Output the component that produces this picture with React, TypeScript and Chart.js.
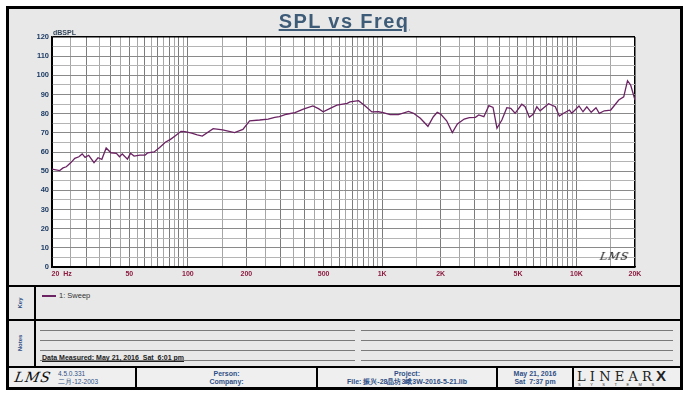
import React, { useEffect, useRef } from 'react';
import { Chart, registerables } from 'chart.js';

Chart.register(...registerables);

// ---- data ----
const freqHz = [
  20, 21.9, 22.8, 23.7, 25.1, 26.2, 27.5, 28.6, 29.6, 30.9, 32.9, 34.5, 36.1, 38.0, 40.2, 42.9,
  44.5, 46.0, 48.9, 50.7, 52.9, 56.7, 60.3, 62.2, 67.1, 71.6, 76.6, 81.4, 86.3, 92.2, 96.6,
  104.6, 111.8, 118.7, 135, 151, 174, 192, 208, 234, 259, 280, 296, 322, 356, 393, 440, 470,
  497, 540, 585, 661, 683, 756, 818, 885, 957, 1012, 1099, 1212, 1367, 1450, 1572, 1720, 1834,
  1920, 1999, 2147, 2296, 2439, 2643, 2809, 3019, 3140, 3337, 3540, 3720, 3897, 4130, 4380,
  4590, 4830, 5230, 5440, 5720, 6000, 6250, 6500, 7180, 7780, 8160, 8580, 9200, 9460, 10300,
  10800, 11300, 11900, 12600, 13100, 13900, 15000, 16500, 17500, 18300, 19000, 20000,
];
const splDb = [
  51.1, 50.3, 51.7, 52.3, 54.6, 56.7, 57.5, 59.0, 57.2, 58.3, 54.4, 57.0, 56.2, 62.1, 59.6, 59.3,
  57.5, 59.0, 56.3, 59.3, 57.9, 58.4, 58.4, 59.6, 60.0, 62.4, 65.1, 66.6, 68.5, 70.8, 70.6,
  69.8, 68.9, 68.3, 72.2, 71.5, 70.1, 71.8, 76.3, 76.7, 77.2, 78.1, 78.4, 79.7, 80.5, 82.4, 84.0, 82.6,
  81.0, 82.8, 84.4, 85.4, 86.1, 86.8, 84.0, 80.9, 81.0, 80.5, 79.5, 79.5, 81.2, 80.2, 77.6, 73.4, 78.4,
  80.7, 79.8, 76.3, 70.1, 74.6, 77.2, 77.9, 78.1, 79.3, 78.4, 84.2, 83.3, 72.4, 76.7, 83.1,
  82.8, 80.2, 84.9, 83.6, 78.1, 79.8, 83.6, 81.5, 85.2, 83.6, 78.8, 80.2, 81.9, 80.2, 84.0,
  81.0, 83.6, 80.7, 83.1, 80.2, 81.5, 81.9, 87.1, 88.8, 97.2, 94.9, 87.1,
];

const xLabelFreqs = [20, 50, 100, 200, 500, 1000, 2000, 5000, 10000, 20000];
const xLabelTexts = ['20  Hz', '50', '100', '200', '500', '1K', '2K', '5K', '10K', '20K'];
// vertical grid: half-steps of each decade
const xGridFreqs = [
  20, 25, 30, 35, 40, 45, 50, 55, 60, 65, 70, 75, 80, 85, 90, 95, 100,
  150, 200, 250, 300, 350, 400, 450, 500, 550, 600, 650, 700, 750, 800, 850, 900, 950, 1000,
  1500, 2000, 2500, 3000, 3500, 4000, 4500, 5000, 5500, 6000, 6500, 7000, 7500, 8000, 8500, 9000, 9500, 10000,
  15000, 20000,
];
const yMin = 0;
const yMax = 120;
const yGridStep = 5;
const yLabelStep = 10;

const seriesName = '1: Sweep';
const chartTitle = 'SPL vs Freq';
const yUnit = 'dBSPL';

const FONT = '"Liberation Sans", Arial, sans-serif';
const CURVE = '#6b2363';

const isIntMantissa = (v: number) => {
  const m = v / Math.pow(10, Math.floor(Math.log10(v) + 1e-9));
  return Math.abs(m - Math.round(m)) < 1e-6;
};

const plotBg = {
  id: 'plotBg',
  beforeDraw(chart: any) {
    const { ctx, chartArea: a } = chart;
    ctx.save();
    ctx.fillStyle = '#ffffff';
    ctx.fillRect(a.left, a.top, a.right - a.left, a.bottom - a.top);
    ctx.restore();
  },
};

function SplChart() {
  const ref = useRef<HTMLCanvasElement | null>(null);
  useEffect(() => {
    if (!ref.current) return;
    const data = freqHz.map((f, i) => ({ x: f, y: splDb[i] }));
    const chart = new Chart(ref.current, {
      type: 'line',
      data: {
        datasets: [
          {
            label: seriesName,
            data,
            borderColor: CURVE,
            borderWidth: 1.3,
            pointRadius: 0,
            tension: 0,
          },
        ],
      },
      options: {
        responsive: false,
        animation: false,
        layout: { padding: { left: 0, top: 28, right: 44, bottom: 0 } },
        plugins: { legend: { display: false }, tooltip: { enabled: false }, title: { display: false } },
        scales: {
          x: {
            type: 'logarithmic',
            min: 20,
            max: 20000,
            afterBuildTicks: (scale: any) => {
              scale.ticks = xGridFreqs.map((v) => ({ value: v }));
            },
            afterFit: (scale: any) => {
              scale.height = 18;
            },
            border: { color: '#000', width: 1.5 },
            grid: {
              drawTicks: false,
              color: (ctx: any) => {
                const v = ctx.tick?.value;
                if (v === 20 || v === 20000) return '#000';
                return isIntMantissa(v) ? '#7c7c7c' : '#a6a6a6';
              },
              lineWidth: (ctx: any) => {
                const v = ctx.tick?.value;
                return v === 20000 ? 1.5 : 1;
              },
            },
            ticks: {
              autoSkip: false,
              maxRotation: 0,
              minRotation: 0,
              padding: 3,
              color: '#8c1c40',
              font: { family: FONT, size: 7, weight: 'bold' },
              callback: (value: any) => {
                const i = xLabelFreqs.findIndex((f) => Math.abs(f - Number(value)) < 1e-6);
                if (i < 0) return '';
                return i === 0 ? ' '.repeat(10) + xLabelTexts[i] : xLabelTexts[i];
              },
            },
          },
          y: {
            type: 'linear',
            min: yMin,
            max: yMax,
            afterFit: (scale: any) => {
              scale.width = 43;
            },
            border: { color: '#000', width: 1.5 },
            grid: {
              drawTicks: false,
              color: (ctx: any) => {
                const v = ctx.tick?.value;
                if (v === yMin || v === yMax) return '#000';
                return v % yLabelStep === 0 ? '#8a8a8a' : '#b4b4b4';
              },
              lineWidth: (ctx: any) => (ctx.tick?.value === yMax ? 1.5 : 1),
            },
            ticks: {
              stepSize: yGridStep,
              autoSkip: false,
              padding: 3,
              color: '#1e3c64',
              font: { family: FONT, size: 7.5, weight: 'bold' },
              callback: (value: any) => (Number(value) % yLabelStep === 0 ? String(value) : ''),
            },
          },
        },
      },
      plugins: [plotBg],
    } as any);
    return () => chart.destroy();
  }, []);
  return (
    <canvas
      ref={ref}
      width={670}
      height={276}
      style={{ position: 'absolute', left: 9, top: 9, width: 670, height: 276 }}
    />
  );
}

const abs = (s: React.CSSProperties): React.CSSProperties => ({ position: 'absolute', ...s });
const navy = '#2f4f86';

export default function App() {
  const hl = (top: number, left = 6, width = 677, h = 2) => (
    <div style={abs({ left, top, width, height: h, background: '#000' })} />
  );
  const vl = (left: number, top: number, height: number, w = 2) => (
    <div style={abs({ left, top, width: w, height, background: '#000' })} />
  );
  const noteLine = (top: number) => (
    <>
      <div style={abs({ left: 40, top, width: 315, height: 1, background: '#7a7a7a' })} />
      <div style={abs({ left: 361, top, width: 312, height: 1, background: '#7a7a7a' })} />
    </>
  );
  const small: React.CSSProperties = { fontFamily: FONT, fontSize: 7, lineHeight: '8px', whiteSpace: 'nowrap' };
  return (
    <div style={{ position: 'fixed', left: 0, top: 0, width: 690, height: 395, background: '#fff', overflow: 'hidden' }}>
      {/* outer frame */}
      <div
        style={abs({
          left: 6,
          top: 6,
          width: 677,
          height: 384,
          border: '3px solid #000',
          boxSizing: 'border-box',
          background: '#e8e8e8',
        })}
      />
      <SplChart />
      {/* title */}
      <div
        style={abs({
          left: 9,
          top: 9,
          width: 670,
          textAlign: 'center',
          fontFamily: FONT,
          fontWeight: 'bold',
          fontSize: 20,
          lineHeight: '24px',
          letterSpacing: 1.4,
          color: '#3e5c78',
          textDecoration: 'underline',
        })}
      >
        {chartTitle}
      </div>
      <div style={abs({ ...small, left: 53, top: 29, fontWeight: 'bold', color: '#34465a' })}>{yUnit}</div>
      {/* LMS mark inside plot */}
      <div
        style={abs({
          left: 600,
          top: 250,
          fontFamily: '"DejaVu Serif", serif',
          fontStyle: 'italic',
          fontSize: 11,
          lineHeight: '14px',
          letterSpacing: 1,
          color: '#111',
          transform: 'skewX(-10deg)',
        })}
      >
        LMS
      </div>

      {/* section dividers */}
      {hl(285)}
      {hl(319)}
      {hl(366)}
      {vl(34, 286, 81)}
      {/* footer */}
      <div style={abs({ left: 9, top: 368, width: 671, height: 19, background: '#efefef' })} />
      {vl(135, 367, 21)}
      {vl(316, 367, 21)}
      {vl(496, 367, 21)}
      {vl(572, 367, 21)}

      {/* Key row */}
      <div
        style={abs({
          ...small,
          left: 10,
          top: 299,
          width: 20,
          textAlign: 'center',
          transform: 'rotate(-90deg)',
          fontSize: 6,
          fontWeight: 'bold',
          color: navy,
        })}
      >
        Key
      </div>
      <div style={abs({ left: 42, top: 295, width: 14, height: 1.5, background: CURVE })} />
      <div style={abs({ ...small, left: 59, top: 292, fontSize: 7.5, color: '#333' })}>{seriesName}</div>

      {/* Notes row */}
      <div
        style={abs({
          ...small,
          left: 5,
          top: 339,
          width: 30,
          textAlign: 'center',
          transform: 'rotate(-90deg)',
          fontSize: 6,
          fontWeight: 'bold',
          color: navy,
        })}
      >
        Notes
      </div>
      {noteLine(330)}
      {noteLine(340)}
      {noteLine(350)}
      {noteLine(360)}
      <div
        style={abs({
          ...small,
          left: 42,
          top: 354,
          fontWeight: 'bold',
          color: '#222',
          textDecoration: 'underline',
        })}
      >
        Data Measured: May 21, 2016&nbsp;&nbsp;Sat&nbsp;&nbsp;6:01 pm
      </div>

      {/* footer contents */}
      <div
        style={abs({
          left: 15,
          top: 369,
          fontFamily: '"DejaVu Serif", serif',
          fontStyle: 'italic',
          fontSize: 14,
          lineHeight: '16px',
          letterSpacing: 1,
          color: '#111',
          transform: 'skewX(-10deg)',
        })}
      >
        LMS
      </div>
      <div style={abs({ ...small, left: 58, top: 370, fontSize: 6.5, color: navy })}>4.5.0.331</div>
      <div style={abs({ ...small, left: 58, top: 378, fontSize: 6.5, color: navy })}>二月-12-2003</div>
      <div style={abs({ ...small, left: 137, width: 179, top: 370, textAlign: 'center', fontWeight: 'bold', color: navy })}>
        Person:
      </div>
      <div style={abs({ ...small, left: 137, width: 179, top: 378, textAlign: 'center', fontWeight: 'bold', color: navy })}>
        Company:
      </div>
      <div style={abs({ ...small, left: 318, width: 178, top: 370, textAlign: 'center', fontWeight: 'bold', color: navy })}>
        Project:
      </div>
      <div style={abs({ ...small, left: 318, width: 178, top: 378, textAlign: 'center', fontWeight: 'bold', color: navy })}>
        File: 振兴-28晶坊3峨3W-2016-5-21.lib
      </div>
      <div style={abs({ ...small, left: 498, width: 74, top: 370, textAlign: 'center', fontWeight: 'bold', color: navy })}>
        May 21, 2016
      </div>
      <div style={abs({ ...small, left: 498, width: 74, top: 378, textAlign: 'center', fontWeight: 'bold', color: navy })}>
        Sat&nbsp;&nbsp;7:37 pm
      </div>
      <div
        style={abs({
          left: 577,
          top: 368,
          width: 100,
          fontFamily: '"DejaVu Serif", serif',
          fontSize: 13,
          lineHeight: '15px',
          letterSpacing: 4.2,
          color: '#222',
          whiteSpace: 'nowrap',
        })}
      >
        LINEAR<span style={{ fontFamily: FONT, fontWeight: 900, fontSize: 15 }}>X</span>
      </div>
      <div
        style={abs({
          left: 578,
          top: 382,
          width: 100,
          fontFamily: FONT,
          fontSize: 4,
          lineHeight: '5px',
          letterSpacing: 9.5,
          color: '#333',
          whiteSpace: 'nowrap',
        })}
      >
        SYSTEMS
      </div>
    </div>
  );
}
